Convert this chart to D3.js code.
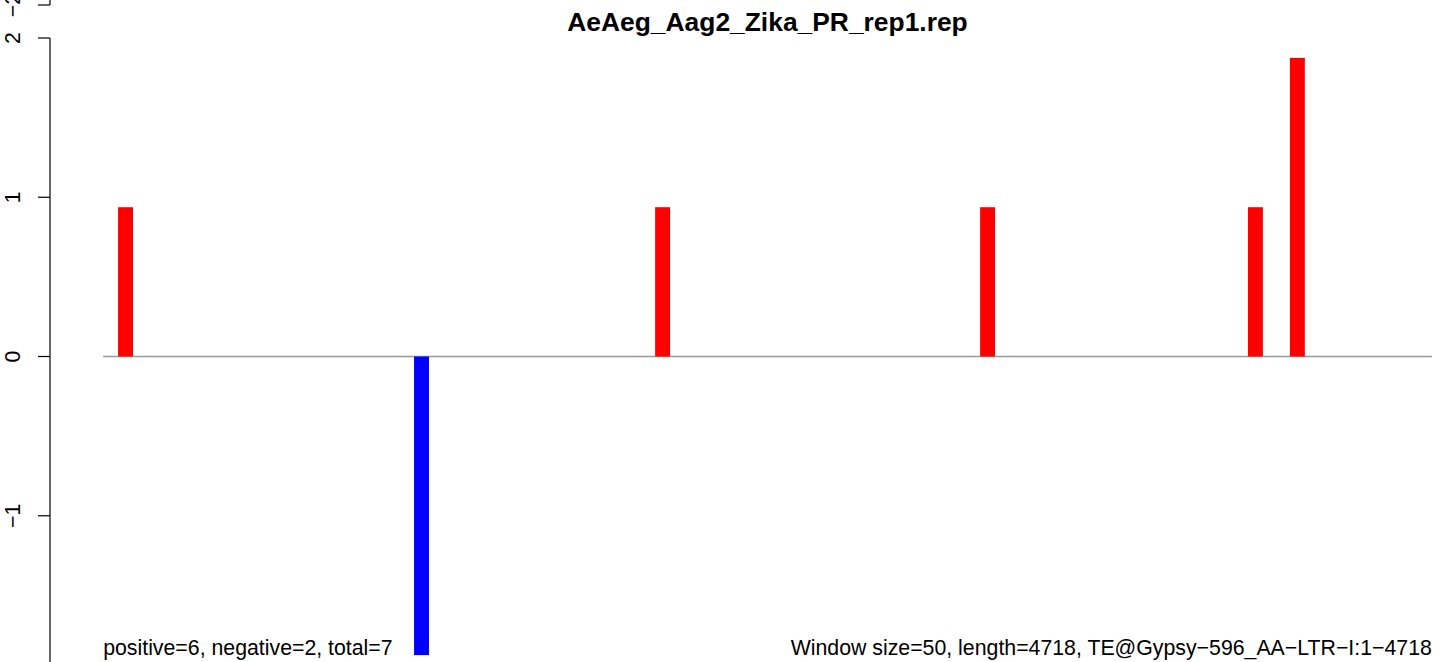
<!DOCTYPE html>
<html>
<head>
<meta charset="utf-8">
<script src="https://cdn.jsdelivr.net/npm/d3@7"></script>
<style>
  html, body { margin: 0; padding: 0; background: #fff; }
  svg { display: block; font-family: "Liberation Sans", Arial, sans-serif; }
</style>
</head>
<body>
<svg id="chart" width="1444" height="662"></svg>
<script>
// ---- data ----
const title = "AeAeg_Aag2_Zika_PR_rep1.rep";
const seqLength = 4718;
const windowStarts = [53, 1104, 1960, 3114, 4065, 4214];
const windowWidth = 53;
const values = [0.9375, -1.875, 0.9375, 0.9375, 0.9375, 1.875];
const yTicks = [-1, 0, 1, 2];
const upperPanelTicks = [-2];
const leftNote = "positive=6, negative=2, total=7";
const rightNote = "Window size=50, length=4718, TE@Gypsy\u2212596_AA\u2212LTR\u2212I:1\u22124718";

// ---- layout ----
const svg = d3.select("#chart");
const pad = 0.04 * seqLength;
const x = d3.scaleLinear().domain([-pad, seqLength + pad]).range([50, 1485]);
const y = d3.scaleLinear().domain([-2, 2]).range([675, 38]);
const yUpper = d3.scaleLinear().domain([-2, 2]).range([5, 5 - 637]);
const fontBase = 21.3;
const minus = s => String(s).replace("-", "\u2212");

// title
svg.append("text")
  .attr("x", (x.range()[0] + x.range()[1]) / 2)
  .attr("y", 31)
  .attr("text-anchor", "middle")
  .attr("font-weight", "bold")
  .attr("font-size", 26.4)
  .text(title);

// zero line
svg.append("line")
  .attr("x1", x(0)).attr("x2", x(seqLength))
  .attr("y1", y(0)).attr("y2", y(0))
  .attr("stroke", "#999999").attr("stroke-width", 1.5);

// bars
const data = windowStarts.map((s, i) => ({ s, v: values[i] }));
svg.selectAll("rect.bar").data(data).join("rect")
  .attr("class", "bar")
  .attr("x", d => x(d.s))
  .attr("width", d => x(d.s + windowWidth) - x(d.s))
  .attr("y", d => y(Math.max(0, d.v)))
  .attr("height", d => Math.abs(y(d.v) - y(0)))
  .attr("fill", d => d.v >= 0 ? "#ff0000" : "#0000ff");

// y axis (R-style)
function rAxis(g, scale, ticks, yTop, yBot) {
  g.append("line")
    .attr("x1", 50).attr("x2", 50)
    .attr("y1", yTop).attr("y2", yBot)
    .attr("stroke", "#000").attr("stroke-width", 1.2);
  const t = g.selectAll("g.tick").data(ticks).join("g").attr("class", "tick");
  t.append("line")
    .attr("x1", 38).attr("x2", 50)
    .attr("y1", d => scale(d)).attr("y2", d => scale(d))
    .attr("stroke", "#000").attr("stroke-width", 1.2);
  t.append("text")
    .attr("transform", d => `translate(20,${scale(d)}) rotate(-90)`)
    .attr("text-anchor", "middle")
    .attr("font-size", fontBase)
    .text(d => minus(d));
}
rAxis(svg.append("g"), y, yTicks, y(2), y(-2));
rAxis(svg.append("g"), yUpper, upperPanelTicks, 0, yUpper(-2));

// bottom notes
svg.append("text")
  .attr("x", x(0)).attr("y", 655)
  .attr("font-size", fontBase)
  .text(leftNote);
svg.append("text")
  .attr("x", x(seqLength)).attr("y", 655)
  .attr("text-anchor", "end")
  .attr("font-size", fontBase)
  .text(rightNote);
</script>
</body>
</html>
